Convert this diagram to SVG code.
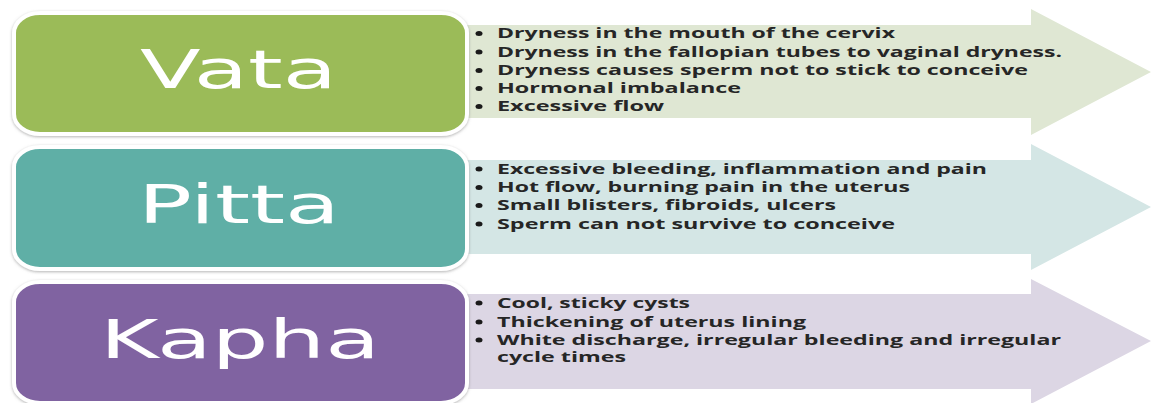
<svg xmlns="http://www.w3.org/2000/svg" width="1151" height="403" viewBox="0 0 1151 403">
<defs>
<filter id="sh" x="-5%" y="-10%" width="110%" height="120%">
<feDropShadow dx="0" dy="1" stdDeviation="1.5" flood-color="#808080" flood-opacity="0.6"/>
</filter>
</defs>
<style>
.box{stroke:#ffffff;stroke-width:4;filter:url(#sh)}
.lbl{font-family:"DejaVu Sans",Verdana,sans-serif;font-size:54px;fill:#ffffff}
.it{font-family:"Open Sans","Liberation Sans",sans-serif;font-weight:700;font-size:13.5px;fill:#262626}
.bul{fill:#1a1a1a}
</style>
<rect width="1151" height="403" fill="#ffffff"/>
<g id="connectors"></g>
<g id="vata">
<polygon points="462,25 1031,25 1031,9 1151,72 1031,135 1031,118 462,118" fill="#DFE7D3"/>
<rect class="box" x="14" y="13" width="453" height="121" rx="26" ry="20" fill="#9BBB59"/>
<text class="lbl" x="140" y="88" textLength="197" lengthAdjust="spacingAndGlyphs">Vata</text>
<g class="bul"><ellipse cx="479" cy="33.5" rx="3.5" ry="2.5"/><ellipse cx="479" cy="52" rx="3.5" ry="2.5"/><ellipse cx="479" cy="70.5" rx="3.5" ry="2.5"/><ellipse cx="479" cy="88.5" rx="3.5" ry="2.5"/><ellipse cx="479" cy="106.5" rx="3.5" ry="2.5"/></g>
<text class="it" x="497" y="38" textLength="398" lengthAdjust="spacingAndGlyphs">Dryness in the mouth of the cervix</text>
<text class="it" x="497" y="56.5" textLength="565" lengthAdjust="spacingAndGlyphs">Dryness in the fallopian tubes to vaginal dryness.</text>
<text class="it" x="497" y="75" textLength="531" lengthAdjust="spacingAndGlyphs">Dryness causes sperm not to stick to conceive</text>
<text class="it" x="497" y="93" textLength="244" lengthAdjust="spacingAndGlyphs">Hormonal imbalance</text>
<text class="it" x="497" y="111" textLength="167" lengthAdjust="spacingAndGlyphs">Excessive flow</text>
</g>
<g id="pitta">
<polygon points="462,160 1031,160 1031,144 1151,207 1031,270 1031,254 462,254" fill="#D4E6E5"/>
<rect class="box" x="14" y="147" width="453" height="122" rx="26" ry="20" fill="#5EAFA6"/>
<text class="lbl" x="138" y="223" textLength="202" lengthAdjust="spacingAndGlyphs">Pitta</text>
<g class="bul"><ellipse cx="479" cy="169" rx="3.5" ry="2.5"/><ellipse cx="479" cy="187.5" rx="3.5" ry="2.5"/><ellipse cx="479" cy="205.5" rx="3.5" ry="2.5"/><ellipse cx="479" cy="224" rx="3.5" ry="2.5"/></g>
<text class="it" x="497" y="173.5" textLength="490" lengthAdjust="spacingAndGlyphs">Excessive bleeding, inflammation and pain</text>
<text class="it" x="497" y="192" textLength="413" lengthAdjust="spacingAndGlyphs">Hot flow, burning pain in the uterus</text>
<text class="it" x="497" y="210" textLength="339" lengthAdjust="spacingAndGlyphs">Small blisters, fibroids, ulcers</text>
<text class="it" x="497" y="228.5" textLength="398" lengthAdjust="spacingAndGlyphs">Sperm can not survive to conceive</text>
</g>
<g id="kapha">
<polygon points="462,294 1031,294 1031,279 1151,341 1031,404 1031,389 462,389" fill="#DCD6E4"/>
<rect class="box" x="14" y="282" width="453" height="121" rx="26" ry="20" fill="#8064A1"/>
<text class="lbl" x="100" y="358" textLength="280" lengthAdjust="spacingAndGlyphs">Kapha</text>
<g class="bul"><ellipse cx="479" cy="303" rx="3.5" ry="2.5"/><ellipse cx="479" cy="322" rx="3.5" ry="2.5"/><ellipse cx="479" cy="340" rx="3.5" ry="2.5"/></g>
<text class="it" x="497" y="307.5" textLength="193" lengthAdjust="spacingAndGlyphs">Cool, sticky cysts</text>
<text class="it" x="497" y="326.5" textLength="309" lengthAdjust="spacingAndGlyphs">Thickening of uterus lining</text>
<text class="it" x="497" y="344.5" textLength="564" lengthAdjust="spacingAndGlyphs">White discharge, irregular bleeding and irregular</text>
<text class="it" x="497" y="361.5" textLength="129" lengthAdjust="spacingAndGlyphs">cycle times</text>
</g>
</svg>
